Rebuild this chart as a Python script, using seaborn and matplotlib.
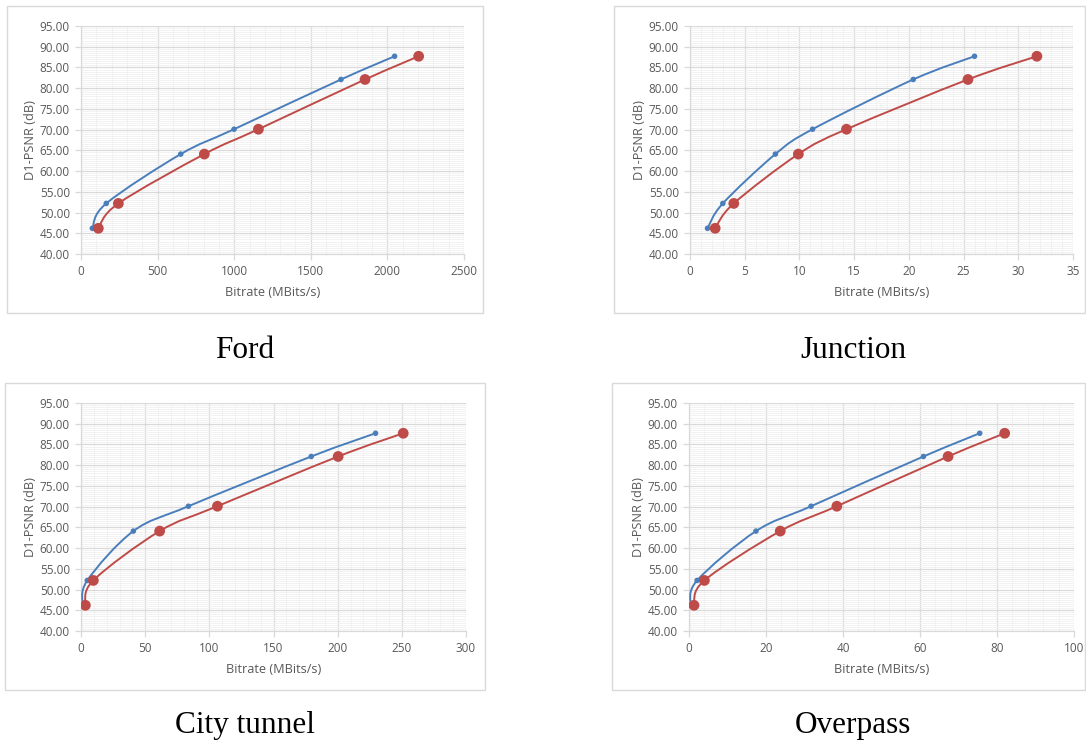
import numpy as np
import seaborn as sns
import matplotlib.pyplot as plt
from matplotlib.path import Path
from matplotlib.patches import PathPatch, Rectangle
from matplotlib.ticker import MultipleLocator, AutoMinorLocator, FormatStrFormatter

# D1-PSNR levels (same for both codecs)
psnr = [46.2, 52.2, 64.1, 70.1, 82.1, 87.7]

# Bitrates (MBits/s), blue = first codec, red = second codec
ford_blue = [74, 165, 651, 999, 1697, 2047]
ford_red = [113, 244, 805, 1158, 1854, 2204]
junction_blue = [1.6, 3.0, 7.8, 11.2, 20.4, 26.0]
junction_red = [2.3, 4.0, 9.9, 14.3, 25.4, 31.7]
city_blue = [1.3, 4.9, 40.8, 83.7, 179.4, 229.5]
city_red = [3.4, 9.6, 61.3, 106.3, 200.4, 251.1]
overpass_blue = [0.4, 2.1, 17.4, 31.7, 60.9, 75.5]
overpass_red = [1.3, 4.0, 23.7, 38.4, 67.3, 82.0]

titles = ['Ford', 'Junction', 'City tunnel', 'Overpass']
x_limits = [2500, 35, 300, 100]
x_steps = [500, 5, 50, 20]

BLUE = '#4A7EBB'
RED = '#BE4B48'
GRID = '#D9D9D9'
TEXT = '#595959'

sns.set_theme(style='white')
plt.rcParams['font.family'] = ['Open Sans', 'DejaVu Sans']

W, H = 1086, 746
fig = plt.figure(figsize=(W / 100, H / 100), dpi=100)


def px_axes(left, top, right, bottom):
    return fig.add_axes([left / W, 1 - bottom / H, (right - left) / W, (bottom - top) / H])


def px_box(left, top, right, bottom):
    fig.patches.append(Rectangle((left / W, 1 - bottom / H), (right - left) / W, (bottom - top) / H,
                                 transform=fig.transFigure, fill=False, edgecolor='#D9D9D9', lw=1.0))


# Excel-like smoothed line: Catmull-Rom through the data as cubic Bezier segments
def smooth_path(xs, ys):
    pts = np.column_stack([xs, ys]).astype(float)
    n = len(pts)
    verts = [pts[0]]
    codes = [Path.MOVETO]
    for i in range(n - 1):
        p0 = pts[max(i - 1, 0)]
        p1 = pts[i]
        p2 = pts[i + 1]
        p3 = pts[min(i + 2, n - 1)]
        verts += [p1 + (p2 - p0) / 6, p2 - (p3 - p1) / 6, p2]
        codes += [Path.CURVE4] * 3
    return Path(verts, codes)


panels = [
    (ford_blue, ford_red, (81, 26, 464, 254), (7, 6, 483, 313), (245, 350)),
    (junction_blue, junction_red, (690, 26, 1073, 254), (614, 6, 1085, 313), (853, 350)),
    (city_blue, city_red, (81, 403, 466, 631), (5, 383, 485, 690), (245, 726)),
    (overpass_blue, overpass_red, (689, 403, 1074, 631), (612, 383, 1085, 690), (853, 726)),
]

for i, (blue, red, ax_px, box_px, cap) in enumerate(panels):
    px_box(*box_px)
    ax = px_axes(*ax_px)

    for xs, color in [(blue, BLUE), (red, RED)]:
        ax.add_patch(PathPatch(smooth_path(xs, psnr), fill=False, edgecolor=color, lw=1.4, zorder=3))
    sns.scatterplot(x=blue, y=psnr, ax=ax, color=BLUE, s=16, edgecolor='none', zorder=4)
    sns.scatterplot(x=red, y=psnr, ax=ax, color=RED, s=60, edgecolor='none', zorder=4)

    ax.set_xlim(0, x_limits[i])
    ax.set_ylim(40, 95)
    ax.xaxis.set_major_locator(MultipleLocator(x_steps[i]))
    ax.xaxis.set_minor_locator(AutoMinorLocator(5))
    ax.yaxis.set_major_locator(MultipleLocator(5))
    ax.yaxis.set_minor_locator(AutoMinorLocator(10))
    ax.yaxis.set_major_formatter(FormatStrFormatter('%.2f'))

    ax.grid(which='minor', color='#F0F0F0', lw=0.6, zorder=0)
    ax.grid(which='major', color=GRID, lw=0.9, zorder=1)
    ax.set_axisbelow(True)

    for side in ['top', 'right']:
        ax.spines[side].set_visible(False)
    for side in ['left', 'bottom']:
        ax.spines[side].set_color(GRID)
        ax.spines[side].set_linewidth(0.9)

    ax.tick_params(which='major', direction='out', length=4, width=0.9, color=GRID,
                   labelsize=8.5, labelcolor=TEXT, pad=4, left=True, bottom=True)
    ax.tick_params(which='minor', length=0)

    ax.set_xlabel('Bitrate (MBits/s)', fontsize=9.2, color=TEXT, labelpad=6)
    ax.set_ylabel('D1-PSNR (dB)', fontsize=9.2, color=TEXT, labelpad=2)

    fig.text(cap[0] / W, 1 - cap[1] / H, titles[i], ha='center', va='center',
             fontsize=22.5, family='Liberation Serif', color='black')

fig.savefig('out.png', dpi=100, facecolor='white')
